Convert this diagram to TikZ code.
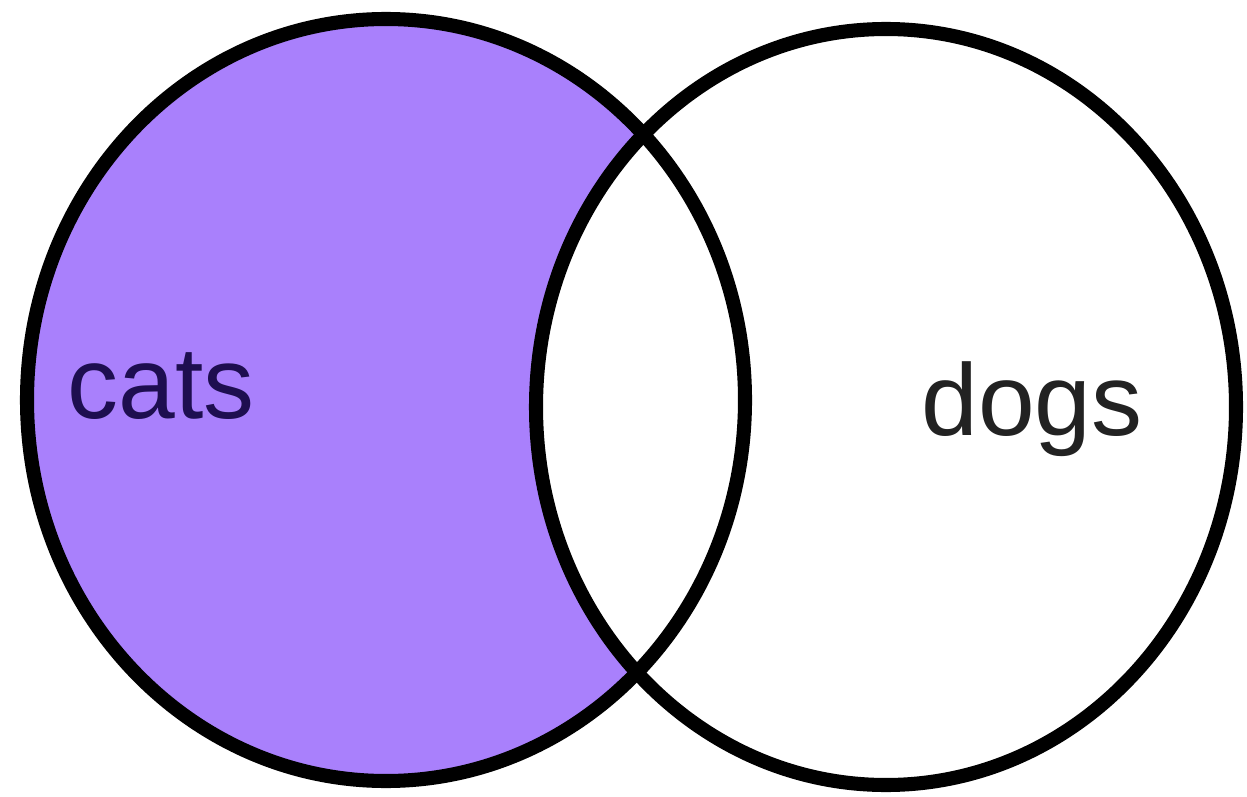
\documentclass[tikz,border=0pt]{standalone}
\usepackage{fontspec}
\setmainfont{Liberation Sans}
\usepackage{xcolor}
\usetikzlibrary{positioning}

\definecolor{catfill}{RGB}{169,128,252}
\definecolor{cattext}{RGB}{30,14,80}
\definecolor{dogtext}{RGB}{34,34,34}

\begin{document}
\begin{tikzpicture}[x=0.02cm, y=-0.02cm,
    setline/.style={draw=black, line width=8pt},
    setlabel/.style={inner sep=0pt, anchor=base, font=\fontsize{58}{60}\selectfont}]
        \useasboundingbox (0,0) rectangle (1247,797);

        % Shade cats only
        \fill[catfill] (386,400) ellipse [x radius=359, y radius=381];
        \fill[white] (886,407) ellipse [x radius=350, y radius=378];

        % Outlines
        \draw[setline] (386,400) ellipse [x radius=359, y radius=381];
        \draw[setline] (886,407) ellipse [x radius=350, y radius=378];

        % Labels
        \node[setlabel, text=cattext] (cats) at (161,418) {cats};
        \node[setlabel, text=dogtext] (dogs) at (1032,435) {dogs};
      \end{tikzpicture}
\end{document}
